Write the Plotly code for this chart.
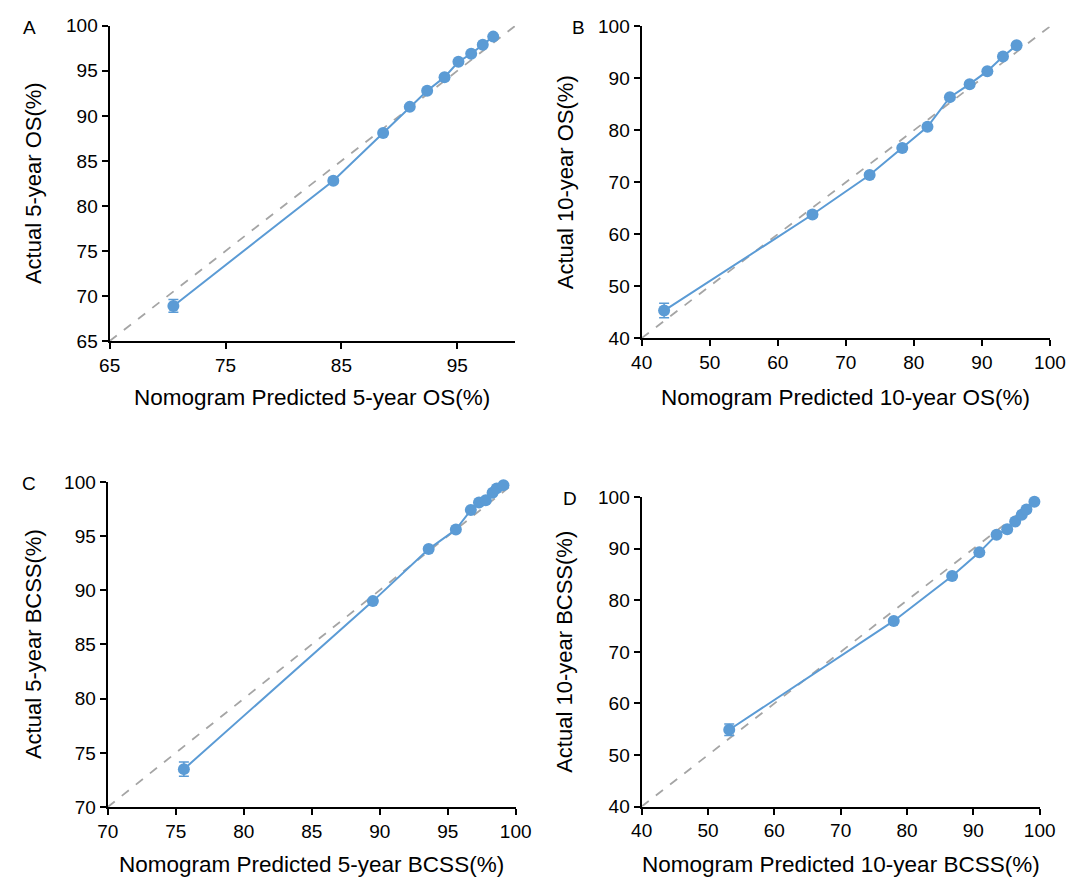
import plotly.graph_objects as go

# page is 1091x890; browser body margin is 8px, so the figure itself is 1075x874
PAGE_W, PAGE_H = 1091, 890
BODY_M = 8
W, H = PAGE_W - 2 * BODY_M, PAGE_H - 2 * BODY_M

# ---------------- data ----------------
a_pred = [70.5, 84.3, 88.6, 90.9, 92.4, 93.9, 95.1, 96.2, 97.2, 98.1]
a_act = [68.9, 82.8, 88.1, 91.0, 92.8, 94.3, 96.0, 96.9, 97.9, 98.8]
a_err = [0.7, 0.3, 0.2, 0.2, 0.2, 0.2, 0.2, 0.2, 0.2, 0.2]

b_pred = [43.3, 65.1, 73.5, 78.3, 82.0, 85.3, 88.2, 90.8, 93.1, 95.1]
b_act = [45.3, 63.8, 71.4, 76.6, 80.7, 86.4, 88.9, 91.4, 94.2, 96.4]
b_err = [1.4, 0.5, 0.4, 0.3, 0.3, 0.3, 0.3, 0.2, 0.2, 0.2]

c_pred = [75.6, 89.5, 93.6, 95.6, 96.7, 97.3, 97.8, 98.3, 98.6, 99.1]
c_act = [73.5, 89.0, 93.8, 95.6, 97.4, 98.1, 98.3, 99.0, 99.4, 99.7]
c_err = [0.65, 0.2, 0.15, 0.1, 0.1, 0.1, 0.1, 0.1, 0.1, 0.1]

d_pred = [53.2, 78.0, 86.8, 90.9, 93.5, 95.1, 96.3, 97.3, 98.0, 99.2]
d_act = [54.9, 76.0, 84.7, 89.3, 92.7, 93.8, 95.3, 96.6, 97.6, 99.1]
d_err = [1.1, 0.4, 0.3, 0.3, 0.2, 0.2, 0.2, 0.2, 0.2, 0.2]

a_xticks = [65, 75, 85, 95]
a_yticks = [65, 70, 75, 80, 85, 90, 95, 100]
b_ticks = [40, 50, 60, 70, 80, 90, 100]
c_ticks = [70, 75, 80, 85, 90, 95, 100]
d_ticks = [40, 50, 60, 70, 80, 90, 100]


def px(xp):
    return (xp - BODY_M) / W


def py(yp):
    return 1 - (yp - BODY_M) / H


panels = [
    dict(letter="A", pred=a_pred, act=a_act, err=a_err, rng=[65, 100],
         xt=a_xticks, yt=a_yticks, box=(101, 517, 16, 339),
         xtitle="Nomogram Predicted 5-year OS(%)", ytitle="Actual 5-year OS(%)",
         lpos=(19, 18), xt_y=397, yt_x=23),
    dict(letter="B", pred=b_pred, act=b_act, err=b_err, rng=[40, 100],
         xt=b_ticks, yt=b_ticks, box=(646.7, 1065.5, 16.7, 336),
         xtitle="Nomogram Predicted 10-year OS(%)", ytitle="Actual 10-year OS(%)",
         lpos=(582, 18), xt_y=397, yt_x=568),
    dict(letter="C", pred=c_pred, act=c_act, err=c_err, rng=[70, 100],
         xt=c_ticks, yt=c_ticks, box=(99, 517.5, 483.3, 816.5),
         xtitle="Nomogram Predicted 5-year BCSS(%)", ytitle="Actual 5-year BCSS(%)",
         lpos=(18, 485), xt_y=875, yt_x=23),
    dict(letter="D", pred=d_pred, act=d_act, err=d_err, rng=[40, 100],
         xt=d_ticks, yt=d_ticks, box=(646.7, 1055, 499, 816),
         xtitle="Nomogram Predicted 10-year BCSS(%)", ytitle="Actual 10-year BCSS(%)",
         lpos=(573, 500), xt_y=875, yt_x=568),
]

BLUE = "#5B9BD5"
GRAY = "#A5A5A5"
FONT = "Arial, 'Liberation Sans', sans-serif"

fig = go.Figure()
layout = dict(width=W, height=H, margin=dict(l=0, r=0, t=0, b=0, pad=0),
              paper_bgcolor="white", plot_bgcolor="white", showlegend=False,
              annotations=[])

for i, p in enumerate(panels, start=1):
    xa = "x" if i == 1 else f"x{i}"
    ya = "y" if i == 1 else f"y{i}"
    x0, x1, y0, y1 = p["box"]
    axcommon = dict(showline=True, linecolor="black", linewidth=2.2,
                    ticks="outside", ticklen=6, tickwidth=2, tickcolor="black",
                    showgrid=False, zeroline=False, range=p["rng"],
                    tickfont=dict(family=FONT, size=19, color="black"))
    layout["xaxis" if i == 1 else f"xaxis{i}"] = dict(
        axcommon, domain=[px(x0), px(x1)], anchor=ya, tickvals=p["xt"])
    layout["yaxis" if i == 1 else f"yaxis{i}"] = dict(
        axcommon, domain=[py(y1), py(y0)], anchor=xa, tickvals=p["yt"])

    # reference diagonal
    fig.add_trace(go.Scatter(x=p["rng"], y=p["rng"], mode="lines",
                             line=dict(color=GRAY, width=1.8, dash="dash"),
                             xaxis=xa, yaxis=ya, hoverinfo="skip"))
    # calibration curve
    fig.add_trace(go.Scatter(x=p["pred"], y=p["act"], mode="lines+markers",
                             line=dict(color=BLUE, width=2),
                             marker=dict(color=BLUE, size=12),
                             error_y=dict(type="data", array=p["err"], color=BLUE,
                                          thickness=1.5, width=5),
                             cliponaxis=False, xaxis=xa, yaxis=ya))

    cx = (x0 + x1) / 2
    cy = (y0 + y1) / 2
    layout["annotations"] += [
        dict(text=p["xtitle"], x=px(cx), y=py(p["xt_y"]), xref="paper", yref="paper",
             xanchor="center", yanchor="middle", showarrow=False,
             font=dict(family=FONT, size=22.5, color="black")),
        dict(text=p["ytitle"], x=px(p["yt_x"]), y=py(cy), xref="paper", yref="paper",
             xanchor="center", yanchor="middle", showarrow=False, textangle=-90,
             font=dict(family=FONT, size=22, color="black")),
        dict(text=p["letter"], x=px(p["lpos"][0]), y=py(p["lpos"][1]),
             xref="paper", yref="paper", xanchor="center", yanchor="middle",
             showarrow=False, font=dict(family=FONT, size=19, color="black")),
    ]

fig.update_layout(**layout)
fig.write_html("out.html", config={"displayModeBar": False})
